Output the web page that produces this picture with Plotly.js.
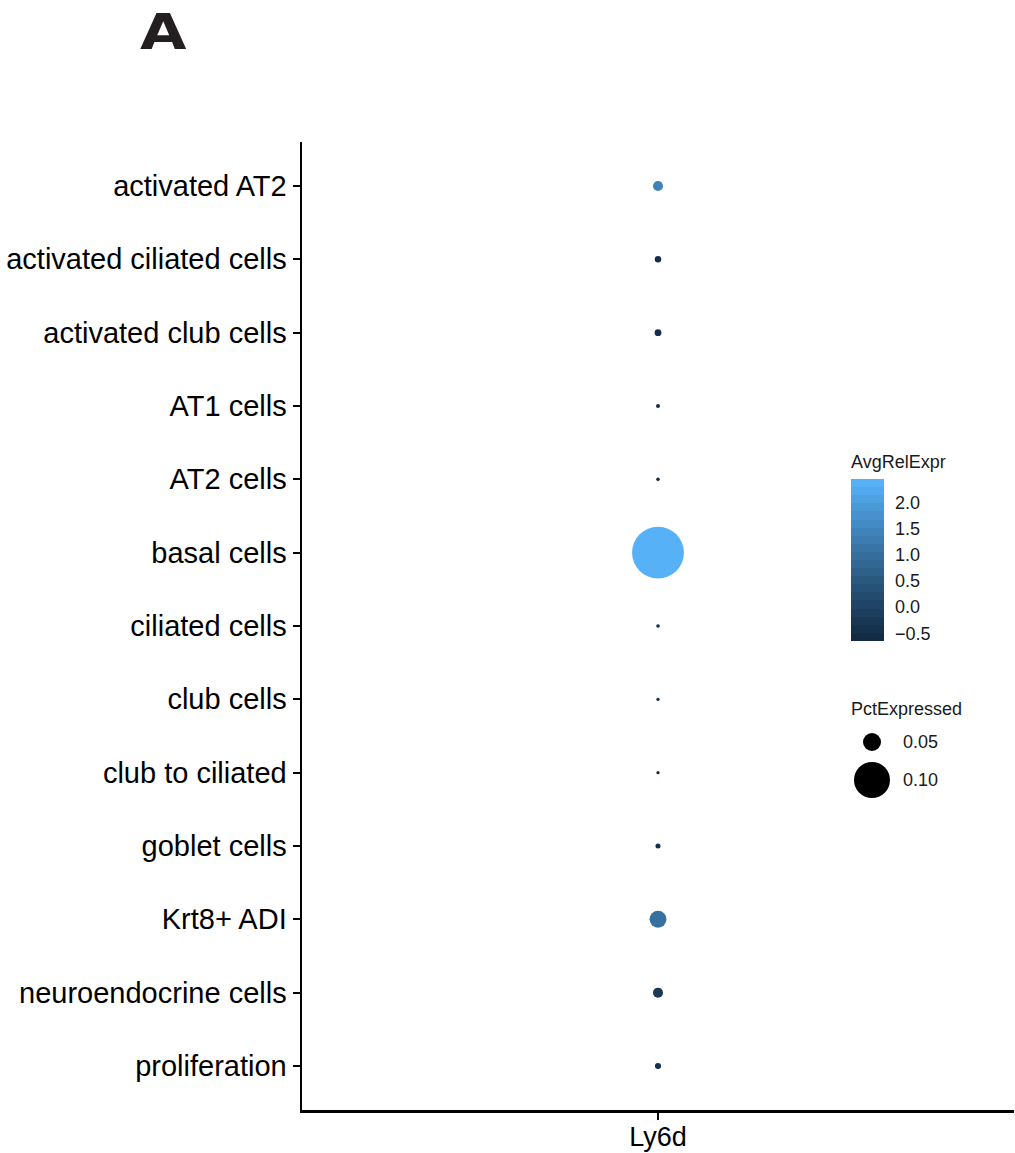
<!DOCTYPE html>
<html>
<head>
<meta charset="utf-8">
<script src="https://cdn.plot.ly/plotly-3.0.1.min.js"></script>
<style>
  html, body { margin: 0; padding: 0; background: #ffffff; }
  #chart { width: 1015px; height: 1153px; }
</style>
</head>
<body>
<div id="chart"></div>
<script>
// Cell populations, top to bottom
const cellTypes = [
  "activated AT2", "activated ciliated cells", "activated club cells",
  "AT1 cells", "AT2 cells", "basal cells", "ciliated cells", "club cells",
  "club to ciliated", "goblet cells", "Krt8+ ADI", "neuroendocrine cells",
  "proliferation"
];
const genes = ["Ly6d"];

// Scaled average expression of Ly6d per population
const avgRelExpr = [1.45, -0.55, -0.50, -0.62, -0.60, 2.46, -0.63, -0.65, -0.64, -0.55, 1.05, -0.30, -0.50];
// Fraction of cells expressing Ly6d
const pctExpressed = [0.028, 0.018, 0.019, 0.011, 0.010, 0.144, 0.010, 0.009, 0.009, 0.014, 0.047, 0.028, 0.017];

// Size legend entries
const sizeLegendValues = [0.05, 0.10];
const sizeLegendLabels = ["0.05", "0.10"];

// Colour bar ticks
const colorTicks = [-0.5, 0.0, 0.5, 1.0, 1.5, 2.0];

// ---- colour gradient (#132B43 -> #56B1F7, interpolated in CIELAB) ----
const LOW = "#132B43", HIGH = "#56B1F7";
function hexToRgb(h) { h = h.replace("#", ""); return [0, 2, 4].map(i => parseInt(h.substr(i, 2), 16)); }
function toLin(c) { c /= 255; return c <= 0.04045 ? c / 12.92 : Math.pow((c + 0.055) / 1.055, 2.4); }
function fromLin(c) { const v = c <= 0.0031308 ? 12.92 * c : 1.055 * Math.pow(c, 1 / 2.4) - 0.055; return Math.round(Math.min(1, Math.max(0, v)) * 255); }
const WN = [0.95047, 1.0, 1.08883];
function rgbToLab(rgb) {
  const [r, g, b] = rgb.map(toLin);
  const X = (0.4124 * r + 0.3576 * g + 0.1805 * b) / WN[0];
  const Y = (0.2126 * r + 0.7152 * g + 0.0722 * b) / WN[1];
  const Z = (0.0193 * r + 0.1192 * g + 0.9505 * b) / WN[2];
  const f = t => t > 0.008856 ? Math.cbrt(t) : 7.787 * t + 16 / 116;
  const fx = f(X), fy = f(Y), fz = f(Z);
  return [116 * fy - 16, 500 * (fx - fy), 200 * (fy - fz)];
}
function labToHex(lab) {
  const fy = (lab[0] + 16) / 116, fx = fy + lab[1] / 500, fz = fy - lab[2] / 200;
  const finv = t => t * t * t > 0.008856 ? t * t * t : (t - 16 / 116) / 7.787;
  const X = finv(fx) * WN[0], Y = finv(fy) * WN[1], Z = finv(fz) * WN[2];
  const r = 3.2406 * X - 1.5372 * Y - 0.4986 * Z;
  const g = -0.9689 * X + 1.8758 * Y + 0.0415 * Z;
  const b = 0.0557 * X - 0.2040 * Y + 1.0570 * Z;
  return "#" + [r, g, b].map(fromLin).map(v => v.toString(16).padStart(2, "0")).join("");
}
const labLow = rgbToLab(hexToRgb(LOW)), labHigh = rgbToLab(hexToRgb(HIGH));
function gradient(t) { return labToHex(labLow.map((v, i) => v + (labHigh[i] - v) * t)); }

// smooth scale for the dots
const smoothScale = [];
for (let i = 0; i <= 40; i++) smoothScale.push([i / 40, gradient(i / 40)]);
// banded scale for the colour bar (20 bins)
const NBIN = 20, bandScale = [];
for (let i = 0; i < NBIN; i++) {
  const c = gradient(i / (NBIN - 1));
  bandScale.push([i / NBIN, c]);
  bandScale.push([(i + 1) / NBIN, c]);
}

const cmin = Math.min(...avgRelExpr), cmax = Math.max(...avgRelExpr);

// ---- geometry in pixels ----
const W = 1015, H = 1153;
const M = { l: 302, r: 1, t: 142, b: 43 };
const PW = W - M.l - M.r, PH = H - M.t - M.b;
const px2x = p => (p - M.l) / PW;
const py2y = p => (H - M.b - p) / PH;

const CB = { left: 851, top: 479, len: 162, thick: 33 };
const legendFont = { family: "Liberation Sans, Arial, sans-serif", size: 18, color: "#1a1a1a" };

const traces = [
  {
    type: "scatter", mode: "markers",
    x: cellTypes.map(() => genes[0]), y: cellTypes,
    xaxis: "x", yaxis: "y",
    marker: {
      size: pctExpressed, sizemode: "diameter", sizeref: 1 / 360, opacity: 1,
      color: avgRelExpr, colorscale: smoothScale, cmin: cmin, cmax: cmax,
      showscale: false, line: { width: 0 }
    },
    hoverinfo: "skip", showlegend: false
  },
  {
    // carries the colour bar only
    type: "scatter", mode: "markers",
    x: cellTypes.map(() => genes[0]), y: cellTypes,
    xaxis: "x", yaxis: "y",
    marker: {
      size: 0.1, opacity: 0,
      color: avgRelExpr, colorscale: bandScale, cmin: cmin, cmax: cmax,
      showscale: true,
      colorbar: {
        x: px2x(CB.left), xanchor: "left", xpad: 0,
        y: py2y(CB.top), yanchor: "top", ypad: 0,
        len: CB.len, lenmode: "pixels",
        thickness: CB.thick, thicknessmode: "pixels",
        outlinewidth: 0,
        tickvals: colorTicks, tickformat: ".1f",
        ticks: "outside", ticklen: 8, tickwidth: 1, tickcolor: "rgba(0,0,0,0)",
        tickfont: legendFont
      }
    },
    hoverinfo: "skip", showlegend: false
  },
  {
    // size legend
    type: "scatter", mode: "markers",
    x: sizeLegendValues.map(() => 0), y: sizeLegendLabels,
    xaxis: "x2", yaxis: "y2",
    marker: { size: sizeLegendValues, sizemode: "diameter", sizeref: 1 / 360, opacity: 1,
              color: "#000000", line: { width: 0 } },
    hoverinfo: "skip", showlegend: false
  }
];

// white tick marks on both edges of the colour bar
const cbShapes = [];
colorTicks.forEach(v => {
  const py = CB.top + (cmax - v) / (cmax - cmin) * CB.len;
  [[CB.left, CB.left + 6], [CB.left + CB.thick - 6, CB.left + CB.thick]].forEach(([a, b]) => {
    cbShapes.push({
      type: "line", xref: "paper", yref: "paper",
      x0: px2x(a), x1: px2x(b), y0: py2y(py), y1: py2y(py),
      line: { color: "#ffffff", width: 1.2 }
    });
  });
});

const axisFont = { family: "Liberation Sans, Arial, sans-serif", size: 29, color: "#000000" };

const layout = {
  width: W, height: H,
  margin: M,
  paper_bgcolor: "#ffffff", plot_bgcolor: "#ffffff",
  showlegend: false,
  xaxis: {
    type: "category", categoryorder: "array", categoryarray: genes,
    range: [-0.5, 0.5],
    showline: true, linecolor: "#000000", linewidth: 2.5,
    ticks: "outside", ticklen: 7, tickwidth: 2, tickcolor: "#000000",
    showgrid: false, zeroline: false,
    tickfont: { family: "Liberation Sans, Arial, sans-serif", size: 27, color: "#000000" },
    ticklabelstandoff: -6
  },
  yaxis: {
    type: "category", categoryorder: "array", categoryarray: cellTypes,
    range: [cellTypes.length - 1 + 0.6, -0.6],
    showline: true, linecolor: "#000000", linewidth: 2.5,
    ticks: "outside", ticklen: 7, tickwidth: 2, tickcolor: "#000000",
    showgrid: false, zeroline: false,
    tickfont: axisFont, ticklabelstandoff: 0
  },
  xaxis2: {
    domain: [px2x(840), px2x(898)], anchor: "y2",
    range: [-32, 26], visible: false, fixedrange: true
  },
  yaxis2: {
    domain: [py2y(800), py2y(720)], anchor: "x2", side: "right",
    type: "category", categoryorder: "array", categoryarray: sizeLegendLabels,
    range: [1 + 20 / 38, -22 / 38],
    showline: false, showgrid: false, zeroline: false, ticks: "",
    tickfont: legendFont, ticklabelstandoff: 4
  },
  shapes: cbShapes,
  annotations: [
    {
      text: "AvgRelExpr", xref: "paper", yref: "paper",
      x: px2x(849), y: py2y(462), xanchor: "left", yanchor: "middle",
      showarrow: false, font: legendFont
    },
    {
      text: "PctExpressed", xref: "paper", yref: "paper",
      x: px2x(849), y: py2y(709), xanchor: "left", yanchor: "middle",
      showarrow: false, font: legendFont
    },
    {
      text: "<b>A</b>", xref: "paper", yref: "paper",
      x: px2x(163), y: py2y(32), xanchor: "center", yanchor: "middle",
      showarrow: false,
      font: { family: "DejaVu Sans, sans-serif", size: 50, color: "#231f20" }
    }
  ]
};

Plotly.newPlot("chart", traces, layout, { displayModeBar: false, staticPlot: true }).then(gd => {
  // widen the panel letter into an extended face
  const t = gd.querySelectorAll(".annotation-text")[2];
  if (t) {
    const bb = t.getBBox();
    const cx = bb.x + bb.width / 2;
    t.setAttribute("transform", `translate(${cx},0) scale(1.2,1) translate(${-cx},0)`);
  }
});
</script>
</body>
</html>
